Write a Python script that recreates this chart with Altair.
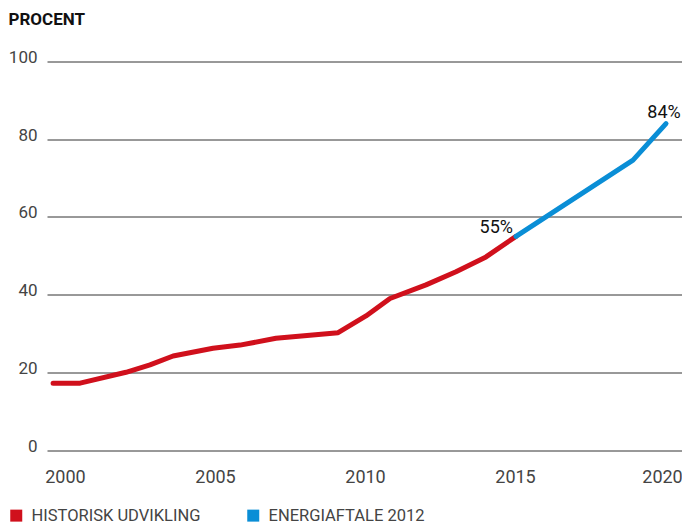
import altair as alt
import pandas as pd

# ---- data ----
hist_years = [1999.57, 2000.47, 2002.0, 2002.8, 2003.57, 2004.9, 2005.8, 2007.0, 2009.07, 2010.0, 2010.8, 2012.0, 2013.0, 2014.0, 2015.0]
hist_vals = [17.2, 17.2, 20.0, 21.9, 24.2, 26.2, 27.0, 28.75, 30.2, 34.5, 39.0, 42.5, 45.9, 49.7, 55.0]
plan_years = [2015.0, 2018.9, 2020.0]
plan_vals = [55.0, 74.6, 84.0]
series_names = ["HISTORISK UDVIKLING", "ENERGIAFTALE 2012"]
series_colors = ["#d0101c", "#0a8ed6"]

label_years = [2015.0, 2020.0]
label_vals = [55.0, 84.0]
label_texts = ["55%", "84%"]

x_ticks = [2000, 2005, 2010, 2015, 2020]
y_ticks = [0, 20, 40, 60, 80, 100]

rows = [{"year": y, "value": v, "series": series_names[0]} for y, v in zip(hist_years, hist_vals)]
rows += [{"year": y, "value": v, "series": series_names[1]} for y, v in zip(plan_years, plan_vals)]
df = pd.DataFrame(rows)
lab = pd.DataFrame({"year": label_years, "value": label_vals, "text": label_texts})

FONT = "Roboto, sans-serif"

x = alt.X(
    "year:Q",
    scale=alt.Scale(domain=[1999.367, 2020.533], nice=False, zero=False),
    axis=alt.Axis(values=x_ticks, format="d", grid=False, domain=False, ticks=False, tickSize=0,
                  labelPadding=18, labelFontSize=18, labelColor="#444", labelFont=FONT,
                  labelFlush=False, title=None,
                  labelOffset={"condition": {"test": "datum.value === 2020", "value": -4},
                               "value": -1}),
)
y = alt.Y(
    "value:Q",
    scale=alt.Scale(domain=[0, 100], nice=False),
    axis=alt.Axis(values=y_ticks, grid=True, gridColor="#333", gridWidth=1, domain=False,
                  ticks=False, tickSize=0, labelPadding=10, labelBaseline="alphabetic",
                  labelOffset=1, labelFontSize=17, labelColor="#444", labelFont=FONT,
                  title="PROCENT", titleAngle=0, titleX=-39, titleY=-37.5, titleAlign="left",
                  titleBaseline="alphabetic", titleFont=FONT, titleFontSize=17,
                  titleFontWeight="bold", titleColor="#111"),
)

color = alt.Color(
    "series:N",
    scale=alt.Scale(domain=series_names, range=series_colors),
    legend=alt.Legend(orient="none", legendX=-39, legendY=445.5, direction="horizontal",
                      title=None, symbolType="square", symbolSize=36, symbolStrokeWidth=6,
                      labelFontSize=16.5, labelFont=FONT, labelColor="#444", labelOffset=7,
                      labelLimit=0, columnPadding=37, padding=0),
)

lines = alt.Chart(df).mark_line(strokeWidth=5, strokeCap="round", strokeJoin="round").encode(
    x=x, y=y, color=color, order="year:Q"
)

t55 = alt.Chart(lab.iloc[[0]]).mark_text(
    align="right", baseline="alphabetic", dx=-3, dy=-3, fontSize=18, font=FONT, color="#111"
).encode(x="year:Q", y="value:Q", text="text:N")
t84 = alt.Chart(lab.iloc[[1]]).mark_text(
    align="center", baseline="alphabetic", dx=-2, dy=-6, fontSize=18, font=FONT, color="#111"
).encode(x="year:Q", y="value:Q", text="text:N")

chart = alt.layer(lines, t55, t84).properties(
    width=635, height=388.5,
    autosize=alt.AutoSizeParams(type="none"),
    padding={"left": 39, "top": 53.5, "right": 0, "bottom": 75},
).configure_view(strokeWidth=0)

chart.save("out.html", embed_options={"renderer": "svg", "actions": False})
